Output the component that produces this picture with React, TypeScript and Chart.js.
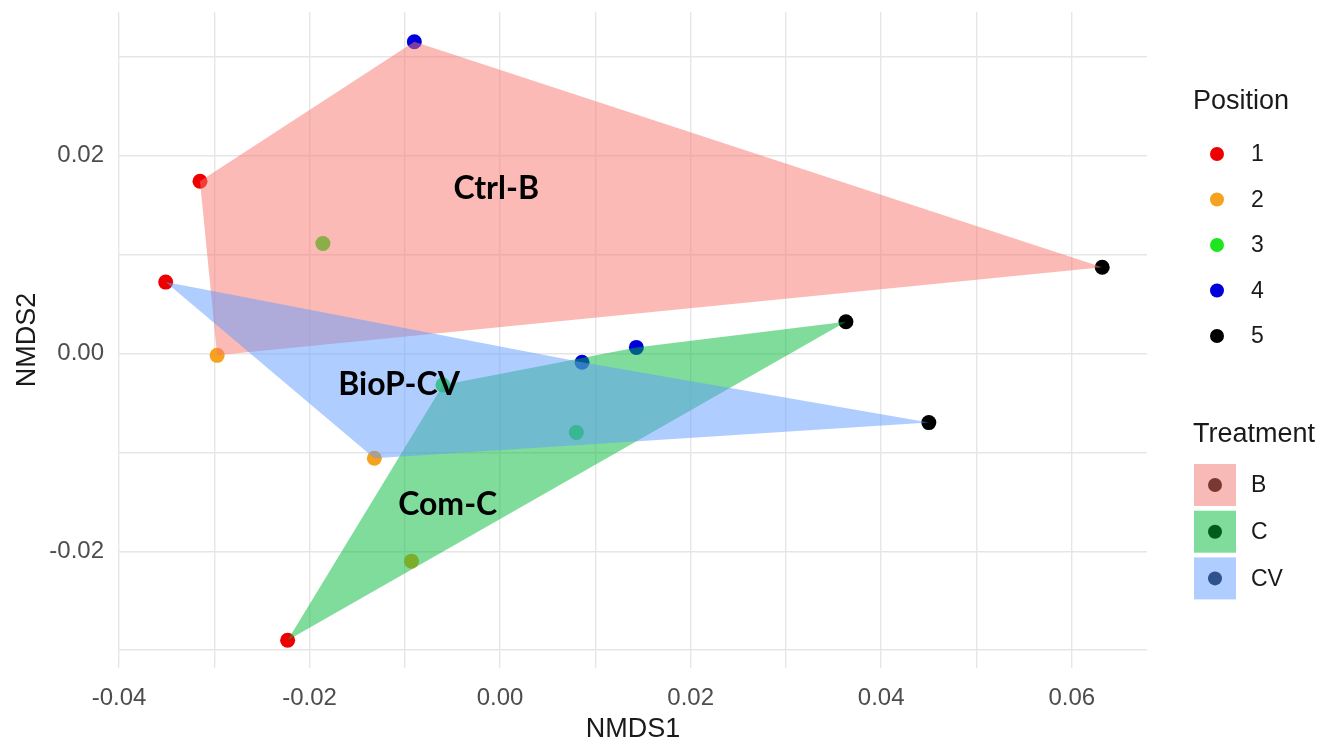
import React, { useEffect, useRef } from 'react';
import { Chart, registerables } from 'chart.js';

Chart.register(...registerables);

// ---- data ----
const positions = ['1', '2', '3', '4', '5'];
const positionColors = ['#EE0000', '#F5A21E', '#1EE61E', '#0000DD', '#000000'];

const treatments = ['B', 'C', 'CV'];
const treatmentFills = ['rgba(248,118,109,0.5)', 'rgba(0,186,56,0.5)', 'rgba(97,156,255,0.5)'];
const treatmentKeyFills = ['#F8BAB6', '#80DC9B', '#B0CDFF'];
const treatmentKeyDots = ['#7A3833', '#005C1C', '#30528C'];

// NMDS scores, index = position 1..5
const bX = [-0.0315, -0.0297, -0.0186, -0.0090, 0.0632];
const bY = [0.0174, -0.0002, 0.0111, 0.0315, 0.0087];
const cX = [-0.0223, -0.0093, -0.0060, 0.0143, 0.0363];
const cY = [-0.0290, -0.0210, -0.0032, 0.0006, 0.0032];
const cvX = [-0.0351, -0.0132, 0.0080, 0.0086, 0.0450];
const cvY = [0.0072, -0.0106, -0.0080, -0.0009, -0.0070];

// convex hull vertex order (indices into positions)
const bHull = [0, 3, 4, 1];
const cHull = [0, 2, 3, 4];
const cvHull = [0, 3, 4, 1];

// annotation labels (centre x, baseline y in data units)
const groupLabels = ['Ctrl-B', 'BioP-CV', 'Com-C'];
const groupLabelX = [-0.0004, -0.0106, -0.0055];
const groupLabelY = [0.0156, -0.0042, -0.0163];

const xTicks = [-0.04, -0.03, -0.02, -0.01, 0, 0.01, 0.02, 0.03, 0.04, 0.05, 0.06];
const xTickLabels = ['-0.04', '', '-0.02', '', '0.00', '', '0.02', '', '0.04', '', '0.06'];
const yTicks = [-0.03, -0.02, -0.01, 0, 0.01, 0.02, 0.03];
const yTickLabels = ['', '-0.02', '', '0.00', '', '0.02', ''];

const groupsX = [bX, cX, cvX];
const groupsY = [bY, cY, cvY];
const hulls = [bHull, cHull, cvHull];

const SANS = '"Liberation Sans", Arial, sans-serif';

const overlayPlugin = {
  id: 'overlay',
  afterDatasetsDraw(chart: any) {
    const { ctx, chartArea, scales } = chart;
    const xs = scales.x;
    const ys = scales.y;
    ctx.save();
    ctx.beginPath();
    ctx.rect(chartArea.left, chartArea.top, chartArea.right - chartArea.left, chartArea.bottom - chartArea.top);
    ctx.clip();
    hulls.forEach((hull, g) => {
      ctx.beginPath();
      hull.forEach((idx, k) => {
        const px = xs.getPixelForValue(groupsX[g][idx]);
        const py = ys.getPixelForValue(groupsY[g][idx]);
        if (k === 0) ctx.moveTo(px, py);
        else ctx.lineTo(px, py);
      });
      ctx.closePath();
      ctx.fillStyle = treatmentFills[g];
      ctx.fill();
    });
    ctx.restore();

    ctx.save();
    ctx.font = 'bold 32px Lato, "Open Sans", sans-serif';
    ctx.fillStyle = '#000000';
    ctx.textAlign = 'center';
    ctx.textBaseline = 'alphabetic';
    groupLabels.forEach((t, i) => {
      ctx.fillText(t, xs.getPixelForValue(groupLabelX[i]), ys.getPixelForValue(groupLabelY[i]));
    });
    ctx.restore();
  },
  afterDraw(chart: any) {
    const { ctx } = chart;
    ctx.save();
    ctx.textAlign = 'left';
    ctx.textBaseline = 'middle';
    ctx.fillStyle = '#1a1a1a';
    ctx.font = '27px ' + SANS;
    ctx.fillText('Position', 1193, 102);
    ctx.font = '23px ' + SANS;
    positions.forEach((p, i) => {
      const y = 154 + i * 45.5;
      ctx.beginPath();
      ctx.arc(1217, y, 7, 0, Math.PI * 2);
      ctx.fillStyle = positionColors[i];
      ctx.fill();
      ctx.fillStyle = '#1a1a1a';
      ctx.fillText(p, 1251, y + 1);
    });
    ctx.font = '27px ' + SANS;
    ctx.fillText('Treatment', 1193, 435);
    ctx.font = '23px ' + SANS;
    treatments.forEach((t, i) => {
      const top = 464 + i * 46.7;
      ctx.fillStyle = treatmentKeyFills[i];
      ctx.fillRect(1194, top, 42, 42);
      ctx.beginPath();
      ctx.arc(1215, top + 21, 7, 0, Math.PI * 2);
      ctx.fillStyle = treatmentKeyDots[i];
      ctx.fill();
      ctx.fillStyle = '#1a1a1a';
      ctx.fillText(t, 1251, top + 22);
    });
    ctx.restore();
  },
};

export default function App() {
  const canvasRef = useRef<HTMLCanvasElement | null>(null);

  useEffect(() => {
    if (!canvasRef.current) return;
    Chart.defaults.font.family = SANS;
    const datasets = positions.map((p, i) => ({
      label: p,
      data: groupsX.map((gx, g) => ({ x: gx[i], y: groupsY[g][i] })),
      backgroundColor: positionColors[i],
      borderWidth: 0,
      pointRadius: 7.5,
      pointHoverRadius: 7.5,
    }));
    const gridOpts = {
      color: '#E6E6E6',
      lineWidth: 1.4,
      drawTicks: false,
    };
    const chart = new Chart(canvasRef.current, {
      type: 'scatter',
      data: { datasets },
      plugins: [overlayPlugin],
      options: {
        animation: false,
        responsive: true,
        maintainAspectRatio: false,
        events: [],
        layout: { padding: { left: 0, right: 183, top: 12, bottom: 0 } },
        plugins: { legend: { display: false }, tooltip: { enabled: false } },
        scales: {
          x: {
            type: 'linear',
            min: -0.04,
            max: 0.0679,
            afterBuildTicks: (s: any) => {
              s.ticks = xTicks.map((v) => ({ value: v }));
            },
            afterFit: (s: any) => {
              s.height = 75;
              s.paddingLeft = 0;
              s.paddingRight = 0;
            },
            ticks: {
              callback: (_v: any, i: number) => xTickLabels[i],
              font: { size: 24, family: SANS },
              color: '#4D4D4D',
              padding: 16,
              maxRotation: 0,
              autoSkip: false,
            },
            grid: gridOpts,
            border: { display: false },
            title: {
              display: true,
              text: 'NMDS1',
              font: { size: 27, family: SANS, lineHeight: 1 },
              color: '#1a1a1a',
              padding: { top: 0, bottom: 0 },
            },
          },
          y: {
            type: 'linear',
            min: -0.0318,
            max: 0.0345,
            afterBuildTicks: (s: any) => {
              s.ticks = yTicks.map((v) => ({ value: v }));
            },
            afterFit: (s: any) => {
              s.width = 119;
              s.paddingTop = 0;
              s.paddingBottom = 0;
            },
            ticks: {
              callback: (_v: any, i: number) => yTickLabels[i],
              font: { size: 24, family: SANS },
              color: '#4D4D4D',
              padding: 15,
              autoSkip: false,
            },
            grid: gridOpts,
            border: { display: false },
            title: {
              display: true,
              text: 'NMDS2',
              font: { size: 27, family: SANS, lineHeight: 1.2 },
              color: '#1a1a1a',
              padding: { top: 11, bottom: 0 },
            },
          },
        },
      },
    } as any);
    return () => chart.destroy();
  }, []);

  return (
    <div style={{ position: 'fixed', left: 0, top: 0, width: 1330, height: 743, background: '#ffffff' }}>
      <canvas ref={canvasRef} />
    </div>
  );
}
